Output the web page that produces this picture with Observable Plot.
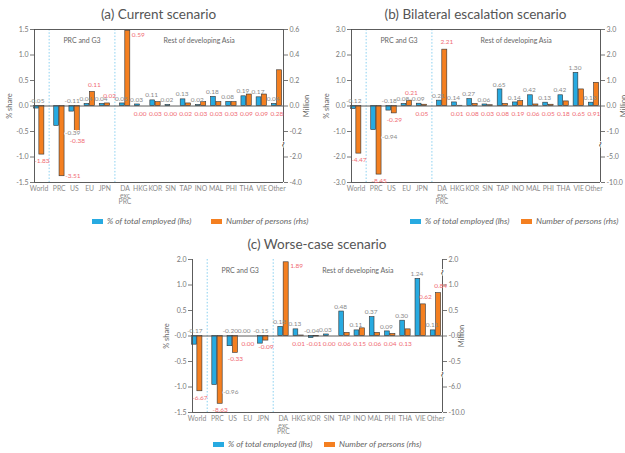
<!DOCTYPE html>
<html><head><meta charset="utf-8">
<script src="https://cdn.jsdelivr.net/npm/d3@7"></script>
<script src="https://cdn.jsdelivr.net/npm/@observablehq/plot@0.6"></script>
<style>
body{margin:0;background:#fff;font-family:Lato,"Open Sans",sans-serif;}
#root{position:relative;width:625px;height:453px;overflow:hidden;background:#fff;}
.title{position:absolute;font-size:13.5px;color:#555;white-space:nowrap;transform:translateX(-50%);}
.panel{position:absolute;}
.rot{position:absolute;font-size:7.5px;color:#666;white-space:nowrap;transform:translate(-50%,-50%) rotate(-90deg);}
.leg{position:absolute;font-size:8.4px;color:#666;font-style:italic;white-space:nowrap;display:flex;align-items:center;height:10px;}
.sw{display:inline-block;width:11px;height:5px;margin-right:4px;}
</style></head><body><div id="root"></div>
<script>
const categories = ["World","PRC","US","EU","JPN","DA\nexc\nPRC","HKG","KOR","SIN","TAP","INO","MAL","PHI","THA","VIE","Other"];
const groupLabels = ["PRC and G3","Rest of developing Asia"];
const seriesNames = ["% of total employed (lhs)","Number of persons (rhs)"];

// (a) Current scenario
const shareA   = [-0.05,-0.39,-0.11,0.04,0.04,0.05,0.03,0.11,0.02,0.13,0.02,0.18,0.08,0.19,0.17,0.04];
const personsA = [-1.83,-3.51,-0.38,0.11,0.02,0.59,0.00,0.03,0.00,0.02,0.03,0.03,0.03,0.09,0.09,0.28];
const leftTicksA  = [-1.5,-1.0,-0.5,0.0,0.5,1.0,1.5];
const rightTicksA = [-4.0,-2.0,-0.2,0.0,0.2,0.4,0.6];

// (b) Bilateral escalation scenario
const shareB   = [-0.12,-0.94,-0.18,0.08,0.09,0.21,0.14,0.27,0.06,0.65,0.14,0.42,0.13,0.42,1.30,0.13];
const personsB = [-4.47,-8.45,-0.29,0.21,0.05,2.21,0.01,0.08,0.03,0.08,0.19,0.06,0.05,0.18,0.65,0.91];
const leftTicksB  = [-3.0,-2.0,-1.0,0.0,1.0,2.0,3.0];
const rightTicksB = [-10.0,-5.0,-1.0,0.0,1.0,2.0,3.0];

// (c) Worse-case scenario
const shareC   = [-0.17,-0.96,-0.20,0.00,-0.15,0.18,0.13,-0.04,0.03,0.48,0.11,0.37,0.09,0.30,1.24,0.11];
const personsC = [-6.67,-8.63,-0.33,0.00,-0.09,1.89,0.01,-0.01,0.00,0.06,0.15,0.06,0.04,0.13,0.62,0.84];
const leftTicksC  = [-1.5,-1.0,-0.5,0.0,0.5,1.0,2.0];
const rightTicksC = [-10.0,-6.0,-0.5,0.0,0.5,1.0,2.0];

const BLUE = "#27aae1", ORANGE = "#f47f20", PINK = "#f06c74", GREY = "#8a8a8a", LINE = "#4a4a4a";
const G = 0.33;
const root = document.getElementById("root");

function addDiv(cls, text, style) {
  const d = document.createElement("div");
  d.className = cls; if (text) d.textContent = text;
  Object.assign(d.style, style); root.appendChild(d); return d;
}

function panel(cfg) {
  const lhs = d3.scaleLinear().domain(cfg.lhsDomain).range(cfg.lhsRange);
  const rhs = d3.scaleLinear().domain(cfg.rhsDomain).range(cfg.rhsRange);
  const ymin = lhs(cfg.leftTicks[0]), ymax = lhs(cfg.leftTicks[cfg.leftTicks.length - 1]);
  const span = ymax - ymin;
  const rows = categories.map((c, i) => {
    const u = i + (i >= 1 ? G : 0) + (i >= 5 ? G : 0);
    return {cat: c, i, u, s: cfg.share[i], p: cfg.persons[i], ys: lhs(cfg.share[i]), yp: rhs(cfg.persons[i])};
  });
  const xd = [-0.30, 16.1];
  const d1 = (rows[0].u + rows[1].u) / 2, d2 = (rows[4].u + rows[5].u) / 2;
  const fmt2 = v => v.toFixed(2);
  const breaks = cfg.breaks.map(([a, b]) => (rhs(a) + rhs(b)) / 2);

  rows.forEach(r => {
    if (r.s >= 0) r.bl = "above";
    else if (r.ys < -0.3 * (span / 3)) r.bl = "deep";
    else r.bl = "zero";
    if (r.p < 0 && r.yp > -0.05) r.ol = "zero";
    else if (r.p < 0) r.ol = r.yp < ymin + 0.045 * span ? "right" : "below";
    else if (r.yp > ymax - 0.1 * span) r.ol = "topright";
    else if (r.i >= 5 && r.yp < cfg.lowCut) r.ol = "zero";
    else if (r.yp < cfg.g3Cut) r.ol = "zero";
    else r.ol = "above";
  });

  const txt = {fontSize: 6.5};
  const marks = [
    Plot.ruleX([d1, d2], {stroke: "#6cc4ec", strokeDasharray: "1.5,1.8", strokeWidth: 0.8}),
    Plot.rect(rows, {x1: d => d.u - 0.33, x2: d => d.u - 0.02, y1: 0, y2: "ys", fill: BLUE, stroke: "#333", strokeWidth: 0.6}),
    Plot.rect(rows, {x1: d => d.u + 0.02, x2: d => d.u + 0.35, y1: 0, y2: "yp", fill: ORANGE, stroke: "#333", strokeWidth: 0.6}),
    Plot.ruleY([0], {stroke: LINE, strokeWidth: 0.9}),
    Plot.ruleY(cfg.topLine ? [ymin, ymax] : [ymin], {stroke: LINE, strokeWidth: 0.9}),
    Plot.ruleX(xd, {stroke: LINE, strokeWidth: 0.9}),
    Plot.axisY(cfg.leftTicks.map(lhs), {anchor: "left", tickSize: 4, tickPadding: 2, fontSize: 7, tickFormat: d => lhs.invert(d).toFixed(1)}),
    Plot.axisY(cfg.rightTicks.map(rhs), {anchor: "right", tickSize: 4, tickPadding: 2, fontSize: 7, tickFormat: d => rhs.invert(d).toFixed(1)}),
    Plot.text(breaks, {x: xd[1], y: d => d, text: () => "~", rotate: 110, fontSize: 10, fill: "#333", stroke: "white", strokeWidth: 1.5}),
    Plot.text(rows, {x: "u", text: "cat", frameAnchor: "bottom", dy: 3.5, lineAnchor: "top", fontSize: 6.8, fill: "#8a8a8a", lineHeight: 1.0}),
    Plot.text([groupLabels[0]], {x: (d1 + d2) / 2, frameAnchor: "top", dy: 9, fontSize: 7, fill: "#666", text: d => d}),
    Plot.text([groupLabels[1]], {x: (d2 + xd[1]) / 2, frameAnchor: "top", dy: 9, fontSize: 7, fill: "#666", text: d => d}),
    // blue labels
    Plot.text(rows, {...txt, filter: d => d.bl === "above", x: d => d.u - 0.24, y: "ys", dy: -5, text: d => fmt2(d.s), fill: GREY}),
    Plot.text(rows, {...txt, filter: d => d.bl === "zero", x: d => d.u - 0.15, y: 0, dy: -5, text: d => fmt2(d.s), fill: GREY}),
    Plot.text(rows, {...txt, filter: d => d.bl === "deep", x: d => d.u + 0.38, y: "ys", dy: 7, textAnchor: "start", text: d => fmt2(d.s), fill: GREY, stroke: "white", strokeWidth: 2, paintOrder: "stroke"}),
    // orange labels
    Plot.text(rows, {...txt, filter: d => d.ol === "below", x: d => d.u + 0.19, y: "yp", dy: 6.5, text: d => fmt2(d.p), fill: PINK}),
    Plot.text(rows, {...txt, filter: d => d.ol === "right", x: d => d.u + 0.4, y: "yp", dy: 0, textAnchor: "start", text: d => fmt2(d.p), fill: PINK}),
    Plot.text(rows, {...txt, filter: d => d.ol === "topright", x: d => d.u + 0.45, y: "yp", dy: 4, textAnchor: "start", text: d => fmt2(d.p), fill: PINK}),
    Plot.text(rows, {...txt, filter: d => d.ol === "above", x: d => d.u + 0.32, y: "yp", dy: -7.5, text: d => fmt2(d.p), fill: PINK}),
    Plot.text(rows, {...txt, filter: d => d.ol === "zero", x: "u", y: 0, dy: 8, text: d => fmt2(d.p), fill: PINK})
  ];

  const svg = Plot.plot({
    width: cfg.width, height: 188,
    marginLeft: cfg.ml, marginRight: cfg.width - cfg.ml - cfg.pw, marginTop: 7, marginBottom: 28,
    x: {type: "linear", domain: xd, axis: null},
    y: {domain: [ymin, ymax], axis: null},
    style: {fontFamily: "Lato, 'Open Sans', sans-serif", color: "#777", background: "transparent", overflow: "visible"},
    marks
  });
  const holder = addDiv("panel", null, {left: cfg.left + "px", top: cfg.top + "px"});
  holder.appendChild(svg);

  const plotLeft = cfg.left + cfg.ml, cx = plotLeft + cfg.pw / 2;
  addDiv("title", cfg.title, {left: cx + "px", top: (cfg.top - 16) + "px"});
  const midY = cfg.top + 7 + 153 / 2;
  addDiv("rot", "% share", {left: cfg.shareX + "px", top: midY + "px"});
  addDiv("rot", "Million", {left: cfg.millionX + "px", top: midY + "px"});
  [[BLUE, seriesNames[0], cfg.leg[0]], [ORANGE, seriesNames[1], cfg.leg[1]]].forEach(([col, name, x]) => {
    const l = addDiv("leg", null, {left: x + "px", top: cfg.legY + "px"});
    const s = document.createElement("span"); s.className = "sw"; s.style.background = col; l.appendChild(s);
    l.appendChild(document.createTextNode(name));
  });
}

panel({title: "(a) Current scenario", share: shareA, persons: personsA, leftTicks: leftTicksA, rightTicks: rightTicksA,
  lhsDomain: [-1.5, 1.5], lhsRange: [-1.5, 1.5],
  rhsDomain: [-4, -2, -0.2, 0, 0.6], rhsRange: [-1.5, -1, -0.5, 0, 1.5],
  breaks: [[-2.0, -0.2]], lowCut: 1.0, g3Cut: 0.02, topLine: true,
  left: 0, top: 22, width: 310, ml: 34, pw: 249, shareX: 9, millionX: 306, leg: [92, 211], legY: 216});

panel({title: "(b) Bilateral escalation scenario", share: shareB, persons: personsB, leftTicks: leftTicksB, rightTicks: rightTicksB,
  lhsDomain: [-3, 3], lhsRange: [-3, 3],
  rhsDomain: [-10, -5, -1, 0, 3], rhsRange: [-3, -2, -1, 0, 3],
  breaks: [[-5.0, -1.0]], lowCut: 1.0, g3Cut: 0.1, topLine: true,
  left: 310, top: 22, width: 315, ml: 41, pw: 249, shareX: 326, millionX: 623, leg: [410, 521], legY: 216});

panel({title: "(c) Worse-case scenario", share: shareC, persons: personsC, leftTicks: leftTicksC, rightTicks: rightTicksC,
  lhsDomain: [-1.5, 1, 2], lhsRange: [-1.5, 1, 1.5],
  rhsDomain: [-10, -6, -0.5, 1, 2], rhsRange: [-1.5, -1, -0.5, 1, 1.5],
  breaks: [[-6.0, -0.5], [1.0, 2.0]], lowCut: 0.5, g3Cut: 0.02, topLine: false,
  left: 150, top: 252, width: 320, ml: 42, pw: 250, shareX: 166, millionX: 461, leg: [213, 324], legY: 439});
</script></body></html>
